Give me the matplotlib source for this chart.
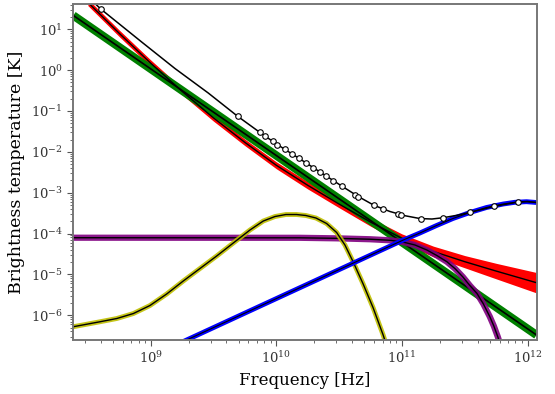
import numpy as np
import matplotlib
matplotlib.use('Agg')
import matplotlib.pyplot as plt

# component spectra as log10(frequency [Hz]) and log10(brightness temperature [K])
sync_logf = [8.384, 9.0, 10.0, 11.0, 12.071]
sync_logT = [1.338, 0.031, -2.091, -4.213, -6.485]

ff_logf = [8.50, 8.75, 9.00, 9.25, 9.50, 9.75, 10.00, 10.25, 10.50, 10.75,
           11.00, 11.25, 11.50, 11.75, 12.071]
ff_logT = [1.66, 0.90, 0.17, -0.52, -1.17, -1.77, -2.33, -2.82, -3.28, -3.72,
           -4.12, -4.44, -4.69, -4.92, -5.205]
ff_err = [0.08, 0.08, 0.08, 0.08, 0.08, 0.08, 0.085, 0.09, 0.09, 0.10,
          0.11, 0.13, 0.15, 0.19, 0.25]   # dex

cmb_logf = [8.384, 10.188, 10.482, 10.745, 10.904, 11.007, 11.103, 11.198,
            11.278, 11.357, 11.421, 11.485, 11.540, 11.596, 11.648, 11.699,
            11.731, 11.763, 11.783]
cmb_logT = [-4.103, -4.105, -4.118, -4.140, -4.166, -4.208, -4.281, -4.404,
            -4.539, -4.690, -4.857, -5.065, -5.273, -5.464, -5.726, -6.037,
            -6.265, -6.534, -6.730]

ame_logf = [8.384, 8.597, 8.730, 8.862, 8.994, 9.127, 9.259, 9.392, 9.525,
            9.657, 9.790, 9.896, 9.989, 10.076, 10.161, 10.235, 10.315, 10.400,
            10.480, 10.546, 10.612, 10.691, 10.771, 10.850, 10.876]
ame_logT = [-6.282, -6.160, -6.081, -5.959, -5.763, -5.481, -5.163, -4.857,
            -4.551, -4.233, -3.914, -3.694, -3.584, -3.535, -3.535, -3.559,
            -3.620, -3.755, -3.975, -4.282, -4.698, -5.237, -5.824, -6.485,
            -6.730]

dust_logf = [9.257, 9.657, 9.949, 10.214, 10.612, 11.010, 11.142, 11.275,
             11.405, 11.540, 11.673, 11.805, 11.898, 11.991, 12.071]
dust_logT = [-6.648, -6.080, -5.665, -5.289, -4.724, -4.159, -3.988, -3.804,
             -3.633, -3.486, -3.363, -3.278, -3.236, -3.221, -3.241]

total_logf = [8.544, 8.605, 8.928, 9.193, 9.458, 9.692, 9.870, 10.007, 10.180,
              10.351, 10.520, 10.652, 10.780, 10.904, 11.023, 11.142, 11.238,
              11.329, 11.437, 11.544, 11.735, 11.924, 11.999, 12.071]
total_logT = [1.668, 1.490, 0.689, 0.040, -0.560, -1.130, -1.527, -1.821,
              -2.159, -2.501, -2.837, -3.094, -3.314, -3.461, -3.564, -3.633,
              -3.645, -3.613, -3.554, -3.481, -3.334, -3.229, -3.216, -3.241]

# observed band points on the total spectrum
obs_logf = [8.605, 9.692, 9.870, 9.909, 9.973, 10.007, 10.070, 10.126, 10.180,
            10.235, 10.291, 10.351, 10.399, 10.453, 10.520, 10.625, 10.652,
            10.780, 10.846, 10.971, 10.991, 11.154, 11.329, 11.544, 11.735,
            11.924]
obs_logT = [1.490, -1.130, -1.527, -1.613, -1.747, -1.821, -1.943, -2.053,
            -2.159, -2.274, -2.384, -2.501, -2.599, -2.710, -2.837, -3.045,
            -3.094, -3.314, -3.388, -3.523, -3.535, -3.633, -3.613, -3.481,
            -3.334, -3.229]


def lin(a):
    return 10 ** np.asarray(a)


plt.rcParams['font.family'] = 'DejaVu Serif'
fig = plt.figure(figsize=(5.55, 3.94), dpi=100)
ax = fig.add_axes([0.132, 0.137, 0.835, 0.853])

# synchrotron
ax.plot(lin(sync_logf), lin(sync_logT), color='green', lw=6, solid_capstyle='butt')
ax.plot(lin(sync_logf), lin(sync_logT), color='black', lw=1.2)

# free-free with widening uncertainty band
ff_lt = np.array(ff_logT)
ff_e = np.array(ff_err)
ax.fill_between(lin(ff_logf), lin(ff_lt - ff_e), lin(ff_lt + ff_e),
                color='red', lw=0)
ax.plot(lin(ff_logf), lin(ff_logT), color='black', lw=1.0)

# CMB
ax.plot(lin(cmb_logf), lin(cmb_logT), color='purple', lw=4.5, alpha=0.9)
ax.plot(lin(cmb_logf), lin(cmb_logT), color='black', lw=1.0)

# AME
ax.plot(lin(ame_logf), lin(ame_logT), color='y', lw=3.5, alpha=0.9)
ax.plot(lin(ame_logf), lin(ame_logT), color='black', lw=1.0)

# thermal dust
ax.plot(lin(dust_logf), lin(dust_logT), color='blue', lw=3.5)
ax.plot(lin(dust_logf), lin(dust_logT), color='black', lw=0.8)

# total
ax.plot(lin(total_logf), lin(total_logT), color='black', lw=1.1)
ax.plot(lin(obs_logf), lin(obs_logT), 'o', ms=4, mfc='white', mec='black', mew=0.8)

ax.set_xscale('log')
ax.set_yscale('log')
ax.set_xlim(2.42e8, 1.18e12)
ax.set_ylim(2.47e-7, 41.7)
ax.set_xlabel('Frequency [Hz]', fontsize=12)
ax.set_ylabel('Brightness temperature [K]', fontsize=12.5)

for s in ax.spines.values():
    s.set_color('#777777')
    s.set_linewidth(1.4)
ax.tick_params(which='both', colors='#555555', labelcolor='#333333',
               labelsize=9.5, direction='out')
ax.tick_params(which='major', length=4)
ax.tick_params(which='minor', length=2)

fig.savefig('out.png', dpi=100)
